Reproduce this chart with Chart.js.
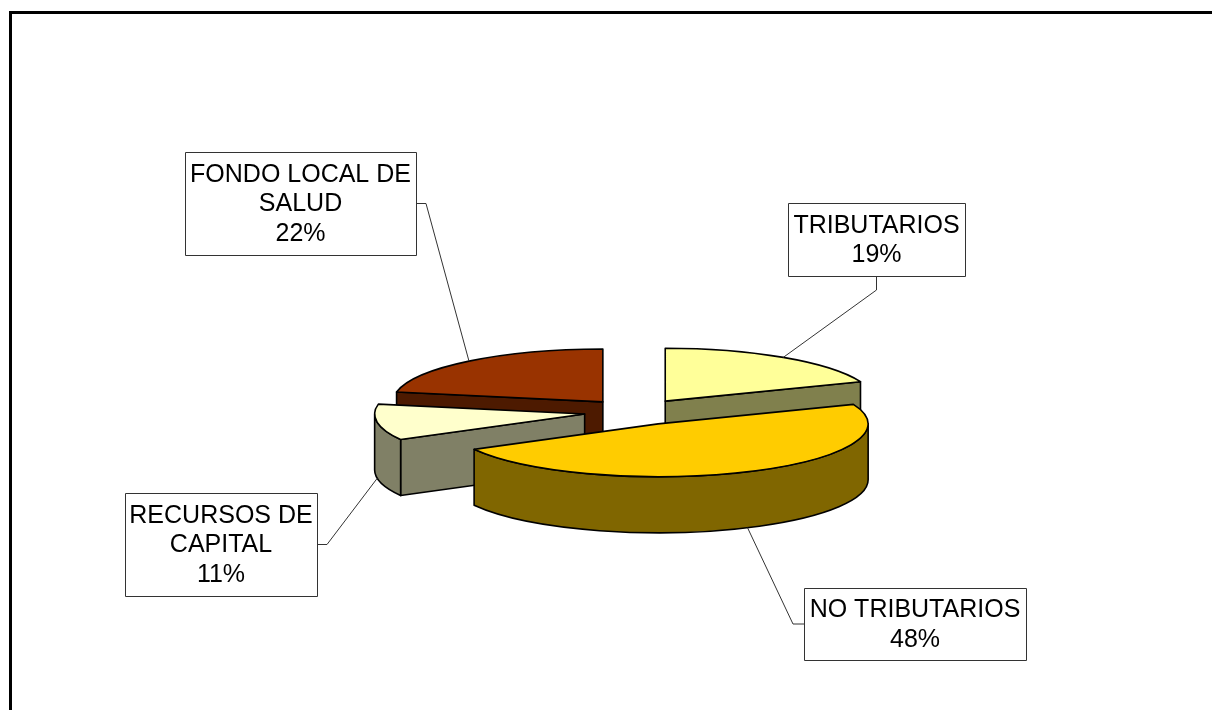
<!DOCTYPE html>
<html>
<head>
<meta charset="utf-8">
<title>Ingresos</title>
<script src="https://cdn.jsdelivr.net/npm/chart.js@4.4.1/dist/chart.umd.min.js"></script>
<style>
  html, body { margin: 0; padding: 0; background: #fff; overflow: hidden; }
  #wrap { position: relative; width: 1212px; height: 710px; }
  #frame { position: absolute; left: 9px; top: 11px; right: -10px; bottom: -10px;
           border-left: 3px solid #000; border-top: 3px solid #000; }
  canvas { position: absolute; left: 0; top: 0; }
</style>
</head>
<body>
<div id="wrap">
  <div id="frame"></div>
  <canvas id="pieChart" width="1212" height="710"></canvas>
</div>
<script>
// Revenue share by source (percent)
const categories = ['TRIBUTARIOS', 'NO TRIBUTARIOS', 'RECURSOS DE CAPITAL', 'FONDO LOCAL DE SALUD'];
const shares = [19, 48, 11, 22];
// how each category name wraps inside its label box
const labelLines = [['TRIBUTARIOS'], ['NO TRIBUTARIOS'], ['RECURSOS DE', 'CAPITAL'], ['FONDO LOCAL DE', 'SALUD']];

const topColors = ['#FFFF99', '#FFCC00', '#FFFFCC', '#993300'];

// 3d look
const TILT = 0.252;   // vertical squash of the pie
const DEPTH = 56;     // thickness of the slices
const EXPLODE = 52;   // how far each slice is pulled out

// label boxes: x, y, w, h and the side the leader line leaves from
const labelBoxes = [
  { x: 788, y: 203, w: 177, h: 73, side: 'bottom' },
  { x: 804, y: 588, w: 222, h: 72, side: 'left' },
  { x: 125, y: 493, w: 192, h: 103, side: 'right' },
  { x: 185, y: 152, w: 231, h: 103, side: 'right' }
];

function darken(hex, f) {
  const n = parseInt(hex.slice(1), 16);
  const r = Math.round(((n >> 16) & 255) * f);
  const g = Math.round(((n >> 8) & 255) * f);
  const b = Math.round((n & 255) * f);
  return `rgb(${r},${g},${b})`;
}

function pt(sl, a, dy) {
  return [sl.cx + sl.rx * Math.cos(a), sl.cy + sl.ry * Math.sin(a) + (dy || 0)];
}

function paint(ctx, fill) {
  ctx.fillStyle = fill;
  ctx.fill();
  ctx.stroke();
}

// flat face along a radius
function drawCut(ctx, sl, a, color) {
  const p = pt(sl, a);
  ctx.beginPath();
  ctx.moveTo(sl.cx, sl.cy);
  ctx.lineTo(p[0], p[1]);
  ctx.lineTo(p[0], p[1] + DEPTH);
  ctx.lineTo(sl.cx, sl.cy + DEPTH);
  ctx.closePath();
  paint(ctx, color);
}

// curved outer wall between two angles
function drawWall(ctx, sl, a0, a1, color) {
  ctx.beginPath();
  ctx.ellipse(sl.cx, sl.cy, sl.rx, sl.ry, 0, a0, a1);
  ctx.ellipse(sl.cx, sl.cy + DEPTH, sl.rx, sl.ry, 0, a1, a0, true);
  ctx.closePath();
  paint(ctx, color);
}

function drawTop(ctx, sl, color) {
  ctx.beginPath();
  ctx.moveTo(sl.cx, sl.cy);
  ctx.ellipse(sl.cx, sl.cy, sl.rx, sl.ry, 0, sl.s, sl.e);
  ctx.closePath();
  paint(ctx, color);
}

const pie3d = {
  id: 'pie3d',
  beforeDatasetDraw() {
    return false; // the flat arcs are replaced by the 3d ones below
  },
  afterDatasetsDraw(chart) {
    const ctx = chart.ctx;
    const arcs = chart.getDatasetMeta(0).data;
    const total = shares.reduce((a, b) => a + b, 0);

    const slices = arcs.map((arc, i) => {
      const p = arc.getProps(['x', 'y', 'startAngle', 'endAngle', 'outerRadius'], true);
      const mid = (p.startAngle + p.endAngle) / 2;
      const off = arc.options.offset;
      return {
        i, mid,
        s: p.startAngle, e: p.endAngle,
        rx: p.outerRadius, ry: p.outerRadius * TILT,
        cx: p.x + off * Math.cos(mid),
        cy: p.y + off * TILT * Math.sin(mid)
      };
    });

    ctx.save();
    ctx.lineWidth = 1.6;
    ctx.lineJoin = 'round';
    ctx.strokeStyle = '#000';

    // back slices first
    slices.slice().sort((a, b) => Math.sin(a.mid) - Math.sin(b.mid)).forEach(sl => {
      const top = topColors[sl.i];
      const side = darken(top, 0.5);
      if (Math.cos(sl.s) < -1e-6) drawCut(ctx, sl, sl.s, side);
      if (Math.cos(sl.e) > 1e-6) drawCut(ctx, sl, sl.e, side);
      const a0 = Math.max(sl.s, 0);
      const a1 = Math.min(sl.e, Math.PI);
      if (a1 > a0) drawWall(ctx, sl, a0, a1, side);
      drawTop(ctx, sl, top);
    });

    // leader lines and label boxes
    ctx.lineWidth = 1;
    ctx.strokeStyle = '#333';
    ctx.font = '25px "Liberation Sans", Arial, sans-serif';
    ctx.textAlign = 'center';
    ctx.textBaseline = 'middle';

    slices.forEach(sl => {
      const box = labelBoxes[sl.i];
      const front = Math.sin(sl.mid) > 0;
      const anchor = pt(sl, sl.mid, front ? DEPTH : 0);
      let attach, elbow;
      if (box.side === 'bottom') {
        attach = [box.x + box.w / 2, box.y + box.h];
        elbow = [attach[0], attach[1] + 14];
      } else if (box.side === 'left') {
        attach = [box.x, box.y + box.h / 2];
        elbow = [attach[0] - 11, attach[1]];
      } else {
        attach = [box.x + box.w, box.y + box.h / 2];
        elbow = [attach[0] + 10, attach[1]];
      }
      ctx.beginPath();
      ctx.moveTo(anchor[0], anchor[1]);
      ctx.lineTo(elbow[0], elbow[1]);
      ctx.lineTo(attach[0], attach[1]);
      ctx.stroke();

      ctx.fillStyle = '#fff';
      ctx.fillRect(box.x, box.y, box.w, box.h);
      ctx.strokeRect(box.x + 0.5, box.y + 0.5, box.w, box.h);

      const pct = Math.round(shares[sl.i] / total * 100);
      const lines = labelLines[sl.i].concat([pct + '%']);
      const lh = 29.5;
      const y0 = box.y + box.h / 2 - (lines.length - 1) * lh / 2 + 1;
      ctx.fillStyle = '#000';
      lines.forEach((t, k) => ctx.fillText(t, box.x + box.w / 2, y0 + k * lh));
    });
    ctx.restore();
  }
};

new Chart(document.getElementById('pieChart'), {
  type: 'pie',
  data: {
    labels: categories,
    datasets: [{
      data: shares,
      backgroundColor: topColors,
      offset: EXPLODE,
      borderWidth: 0
    }]
  },
  options: {
    responsive: false,
    animation: false,
    events: [],
    radius: 210,
    layout: { padding: { left: 60, right: 0, top: 114, bottom: 0 } },
    plugins: {
      legend: { display: false },
      tooltip: { enabled: false }
    }
  },
  plugins: [pie3d]
});
</script>
</body>
</html>
